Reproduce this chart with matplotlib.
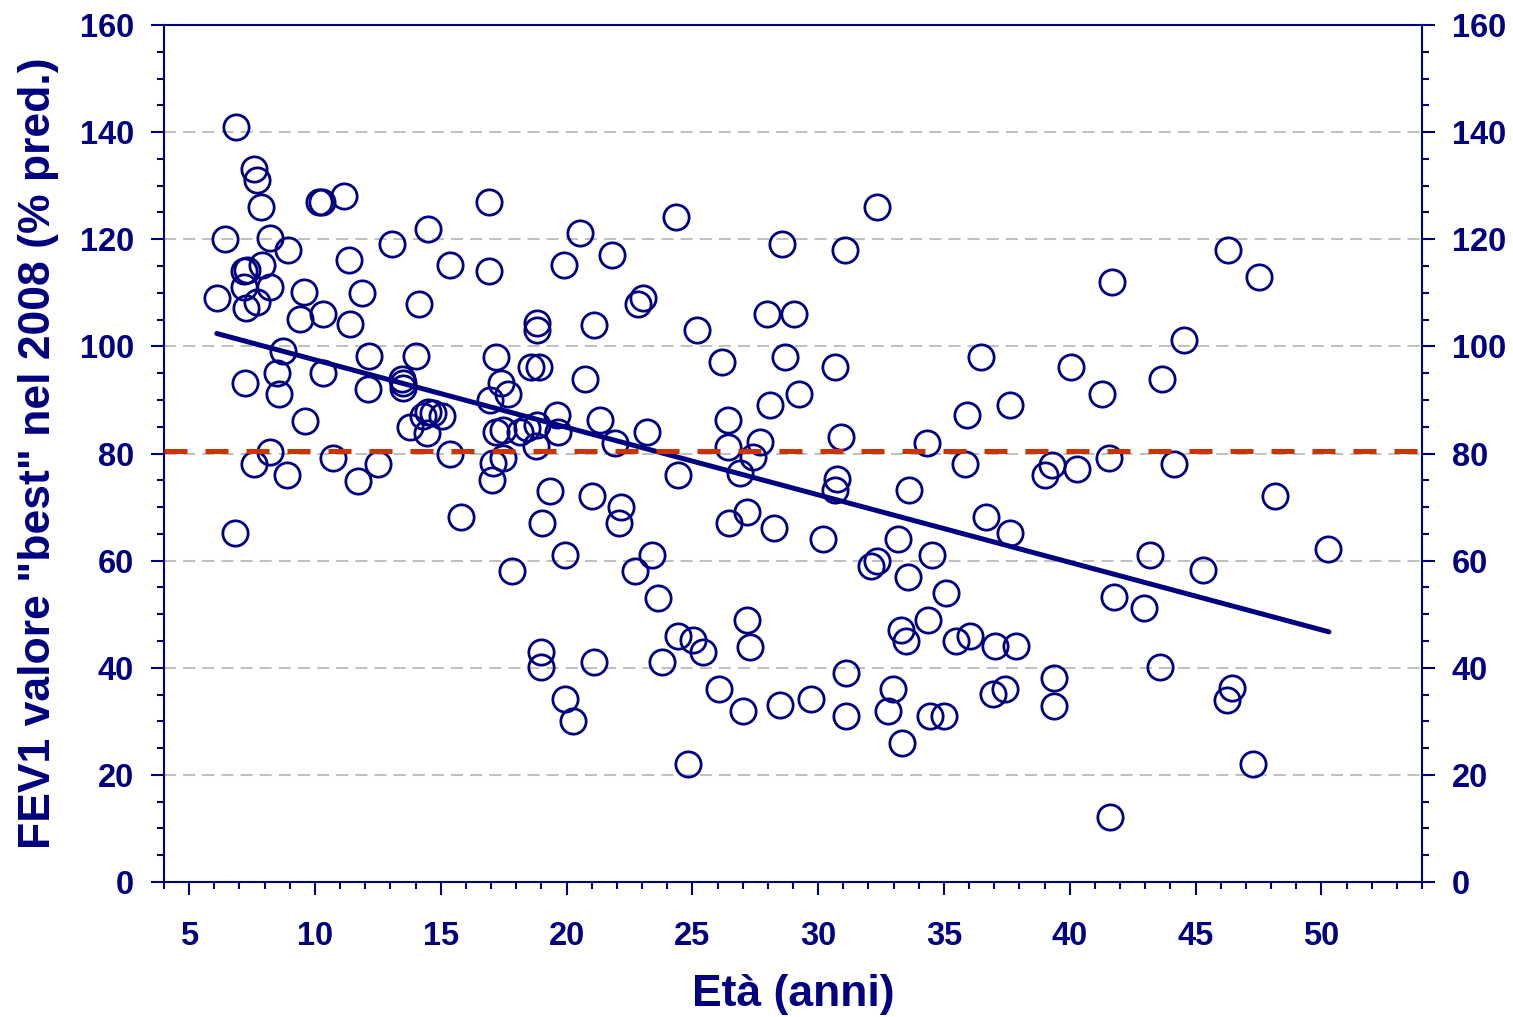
import matplotlib
matplotlib.use("Agg")
import matplotlib.pyplot as plt
from matplotlib.ticker import MultipleLocator
import numpy as np

# ---------------- data ----------------
age = [
    6.88, 7.57, 7.70, 7.84, 10.15, 10.26, 11.14, 6.42, 8.21, 8.94,
    11.34, 13.06, 14.50, 15.37, 7.17, 7.29, 7.88, 8.21, 7.17, 6.12,
    7.25, 7.68, 9.55, 11.88, 9.40, 10.33, 11.39, 14.15, 16.93, 16.93,
    8.74, 8.48, 7.23, 8.58, 9.60, 10.33, 12.15, 12.12, 14.01, 13.45,
    13.49, 13.49, 14.50, 14.70, 14.30, 15.04, 13.78, 14.44, 8.21, 7.57,
    8.87, 10.73, 11.72, 12.51, 15.37, 15.80, 6.82, 20.53, 24.35, 28.55,
    19.90, 21.80, 23.03, 22.85, 18.81, 18.84, 21.09, 25.20, 27.96, 29.02,
    17.19, 18.59, 18.90, 20.73, 26.17, 28.69, 28.09, 29.25, 17.38, 17.68,
    16.96, 19.61, 19.67, 21.33, 23.19, 26.43, 27.69, 26.43, 26.90, 27.43,
    21.93, 24.44, 17.19, 17.47, 18.15, 18.43, 18.83, 18.77, 17.47, 17.09,
    17.02, 19.34, 19.01, 19.94, 17.82, 21.02, 22.17, 22.09, 23.41, 22.72,
    23.65, 27.19, 26.46, 28.25, 18.97, 18.98, 21.09, 23.78, 19.94, 20.27,
    24.42, 25.02, 25.41, 27.16, 27.29, 26.07, 27.00, 28.49, 24.84, 32.33,
    31.07, 41.68, 30.65, 36.48, 40.06, 41.28, 35.93, 37.63, 30.91,
    34.32, 35.84, 30.74, 30.65, 33.63, 39.29, 39.02, 40.28, 41.54, 36.67,
    37.63, 41.74, 42.97, 30.18, 33.19, 34.52, 32.33, 32.09, 33.59,
    35.08, 34.36, 33.29, 33.50, 35.48, 36.04, 37.04, 37.87, 31.11, 32.97,
    32.79, 31.11, 33.35, 34.45, 35.01, 36.93, 37.41, 39.39, 39.39, 29.72,
    46.27, 47.54, 44.56, 43.66, 44.13, 48.17, 43.17, 45.29, 50.25, 43.60,
    46.45, 46.25, 47.28, 41.61,
]
fev1 = [
    141.0, 133.1, 131.1, 126.1, 127.0, 127.0, 128.1, 120.0, 120.2, 118.0,
    116.1, 119.1, 122.0, 115.1, 114.1, 114.2, 115.1, 111.0, 111.0, 109.1,
    107.1, 108.2, 110.1, 110.0, 105.1, 106.0, 104.2, 108.0, 127.0, 114.1,
    99.2, 95.1, 93.1, 91.1, 86.1, 95.1, 98.2, 92.0, 98.2, 94.0,
    93.1, 92.2, 87.8, 87.5, 87.0, 87.0, 85.0, 83.8, 80.2, 78.0,
    76.0, 79.1, 74.9, 78.0, 80.0, 68.1, 65.1, 121.1, 124.1, 119.1,
    115.1, 117.1, 109.0, 108.0, 104.3, 103.1, 104.0, 103.1, 106.0, 106.0,
    98.1, 96.1, 96.1, 94.0, 97.0, 98.1, 89.1, 91.1, 93.1, 91.2,
    90.0, 87.2, 84.1, 86.3, 84.1, 86.3, 82.2, 81.3, 76.4, 79.4,
    81.9, 76.0, 84.0, 84.4, 84.0, 84.8, 85.4, 81.4, 79.2, 78.2,
    75.1, 73.0, 67.1, 61.1, 58.1, 72.1, 70.1, 67.1, 61.1, 58.1,
    53.1, 69.0, 67.1, 66.0, 43.0, 40.1, 41.1, 41.1, 34.1, 30.1,
    46.0, 45.2, 43.0, 49.0, 43.9, 36.0, 32.0, 33.0, 22.0, 126.1,
    118.0, 112.1, 96.1, 98.1, 96.1, 91.1, 87.1, 89.1, 83.0,
    82.0, 78.0, 75.2, 73.2, 73.1, 77.9, 76.0, 77.1, 79.1, 68.1,
    65.1, 53.2, 51.1, 64.0, 64.0, 61.1, 60.0, 59.0, 57.0,
    54.0, 49.0, 47.1, 45.0, 45.0, 46.0, 44.1, 44.1, 39.1, 36.0,
    32.0, 31.0, 26.0, 31.0, 31.0, 35.1, 36.0, 38.0, 32.9, 34.1,
    118.0, 113.0, 101.1, 94.0, 78.0, 72.1, 61.1, 58.3, 62.1, 40.1,
    36.2, 34.0, 22.0, 12.1,
]
trend_x = [6.1, 50.3]
trend_y = [102.4, 46.7]
threshold = 80.5

x_ticks = [5, 10, 15, 20, 25, 30, 35, 40, 45, 50]
y_ticks = [0, 20, 40, 60, 80, 100, 120, 140, 160]
x_label = "Età (anni)"
y_label = 'FEV1 valore "best" nel 2008 (% pred.)'

# ---------------- style ----------------
NAVY = "#000080"
RED = "#CC3300"
GRID = "#C0C0C0"
plt.rcParams["font.family"] = ["Liberation Sans", "DejaVu Sans"]
plt.rcParams["font.weight"] = "bold"

fig = plt.figure(figsize=(15.13, 10.17), dpi=100)
ax = fig.add_axes([164 / 1513, 135 / 1017, 1258 / 1513, 857 / 1017])

ax.set_xlim(4, 54)
ax.set_ylim(0, 160)

ax.set_xticks(x_ticks)
ax.set_yticks(y_ticks)
ax.xaxis.set_minor_locator(MultipleLocator(1))
ax.yaxis.set_minor_locator(MultipleLocator(5))

for s in ax.spines.values():
    s.set_color(NAVY)
    s.set_linewidth(1.5)

ax.tick_params(axis="both", which="both", direction="out", color=NAVY,
               width=1.5, labelcolor=NAVY, labelsize=23.5)
ax.tick_params(axis="both", which="major", length=9.5)
ax.tick_params(axis="both", which="minor", length=5)
ax.tick_params(axis="y", which="both", left=True, right=True,
               labelleft=True, labelright=True, pad=12)
ax.tick_params(axis="x", which="both", top=False, pad=18.5)
for lab in ax.get_xticklabels() + ax.get_yticklabels():
    lab.set_fontweight("bold")

# gridlines (horizontal only)
ax.set_axisbelow(True)
ax.yaxis.grid(True, which="major", color=GRID, linewidth=1.45,
              linestyle=(0, (6, 3.5)))

ax.plot(age, fev1, linestyle="none", marker="o", markersize=18.2,
        markerfacecolor="none", markeredgecolor=NAVY, markeredgewidth=2.0,
        zorder=3)
ax.plot(trend_x, trend_y, color=NAVY, linewidth=3.6,
        solid_capstyle="round", zorder=4)
ax.axhline(threshold, color=RED, linewidth=3.6, linestyle=(0, (4.6, 3.6)),
           zorder=5)

ax.set_xlabel(x_label, fontsize=32, fontweight="bold", color=NAVY, labelpad=16)
ax.set_ylabel(y_label, fontsize=32, fontweight="bold", color=NAVY, labelpad=15)

fig.savefig("out.png", dpi=100)
